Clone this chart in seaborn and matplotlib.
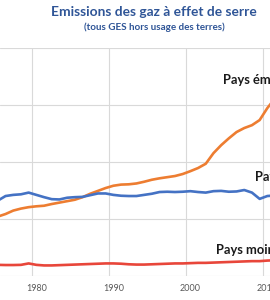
import numpy as np
import pandas as pd
import matplotlib
matplotlib.use("Agg")
import matplotlib.pyplot as plt
import seaborn as sns

years = list(range(1975, 2012))

emergents = [10.4, 10.85, 11.45, 11.8, 12.05, 12.2, 12.3, 12.6, 12.85, 13.1,
             13.35, 13.8, 14.4, 14.9, 15.4, 15.8, 16.0, 16.05, 16.2, 16.5,
             16.85, 17.1, 17.3, 17.5, 17.85, 18.35, 18.9, 19.65, 21.5, 22.9,
             24.1, 25.2, 25.9, 26.4, 27.3, 29.4, 31.1]

developpes = [13.2, 14.0, 14.2, 14.3, 14.6, 14.2, 13.8, 13.45, 13.4, 13.7,
              13.8, 13.85, 14.15, 14.45, 14.45, 14.2, 14.05, 14.0, 14.0, 14.2,
              14.4, 14.7, 14.75, 14.7, 14.75, 14.85, 14.7, 14.6, 14.85, 14.9,
              14.75, 14.8, 15.05, 14.6, 13.5, 14.0, 14.1]

moins_avances = [1.95, 1.92, 1.92, 1.95, 2.2, 1.95, 1.85, 1.85, 1.9, 1.95,
                 2.0, 2.05, 2.1, 2.15, 2.2, 2.2, 2.15, 2.05, 2.0, 2.0,
                 2.05, 2.1, 2.15, 2.2, 2.2, 2.25, 2.3, 2.3, 2.35, 2.4,
                 2.45, 2.5, 2.55, 2.6, 2.6, 2.7, 2.75]

series_names = ["Pays émergents", "Pays développés", "Pays moins avancés"]
colors = {"Pays émergents": "#ED7D31",
          "Pays développés": "#4472C4",
          "Pays moins avancés": "#E8463A"}

tick_years = [1980, 1990, 2000, 2010]
tick_labels = ["1980", "1990", "2000", "2010"]

title = "Emissions des gaz à effet de serre"
subtitle = "(tous GES hors usage des terres)"

df = pd.DataFrame({
    "year": years * 3,
    "value": emergents + developpes + moins_avances,
    "serie": [series_names[0]] * len(years) + [series_names[1]] * len(years)
             + [series_names[2]] * len(years),
})

sns.set_theme(style="white")
plt.rcParams["font.family"] = ["Lato", "DejaVu Sans"]

fig = plt.figure(figsize=(2.7, 3.0), dpi=100)
ax = fig.add_axes([0, 24 / 300, 1, 228.5 / 300])

sns.lineplot(data=df, x="year", y="value", hue="serie", palette=colors,
             linewidth=1.9, ax=ax, legend=False)

ax.set_xticks(tick_years)
ax.set_xticklabels(tick_labels)
ax.set_xticks([y - 0.5 for y in range(1970, 2020, 10)], minor=True)
ax.set_yticks([0, 10, 20, 30, 40])
ax.set_yticklabels([])

px_per_year = 7.7
x_left = 1979.5 - 32.5 / px_per_year
ax.set_xlim(x_left, x_left + 270 / px_per_year)
ax.set_ylim(0, 40)

ax.tick_params(axis="x", which="both", length=0, pad=5.5, labelsize=6.5,
               labelcolor="#595959")
ax.tick_params(axis="y", length=0)
ax.grid(False)
ax.grid(True, axis="x", which="minor", color="#D9D9D9", linewidth=0.8)
ax.grid(True, axis="y", which="major", color="#D9D9D9", linewidth=0.8)
ax.set_axisbelow(True)
for s in ax.spines.values():
    s.set_visible(False)
ax.set_xlabel("")
ax.set_ylabel("")

label_font = dict(fontsize=9.3, fontweight="bold", color="#1a1a1a",
                  va="center", ha="left", clip_on=False)
ax.text(2004.24, 34.3, "Pays émergents", **label_font)
ax.text(2008.4, 17.4, "Pays développés", **label_font)
ax.text(2003.33, 4.55, "Pays moins avancés", **label_font)

fig.text(154 / 270, 1 - 12 / 300, title, ha="center", va="center",
         fontsize=9.9, fontweight="bold", color="#2F5597")
fig.text(154.5 / 270, 1 - 27 / 300, subtitle, ha="center", va="center",
         fontsize=7.1, fontweight="bold", color="#2F5597")

fig.savefig("out.png", dpi=100)
